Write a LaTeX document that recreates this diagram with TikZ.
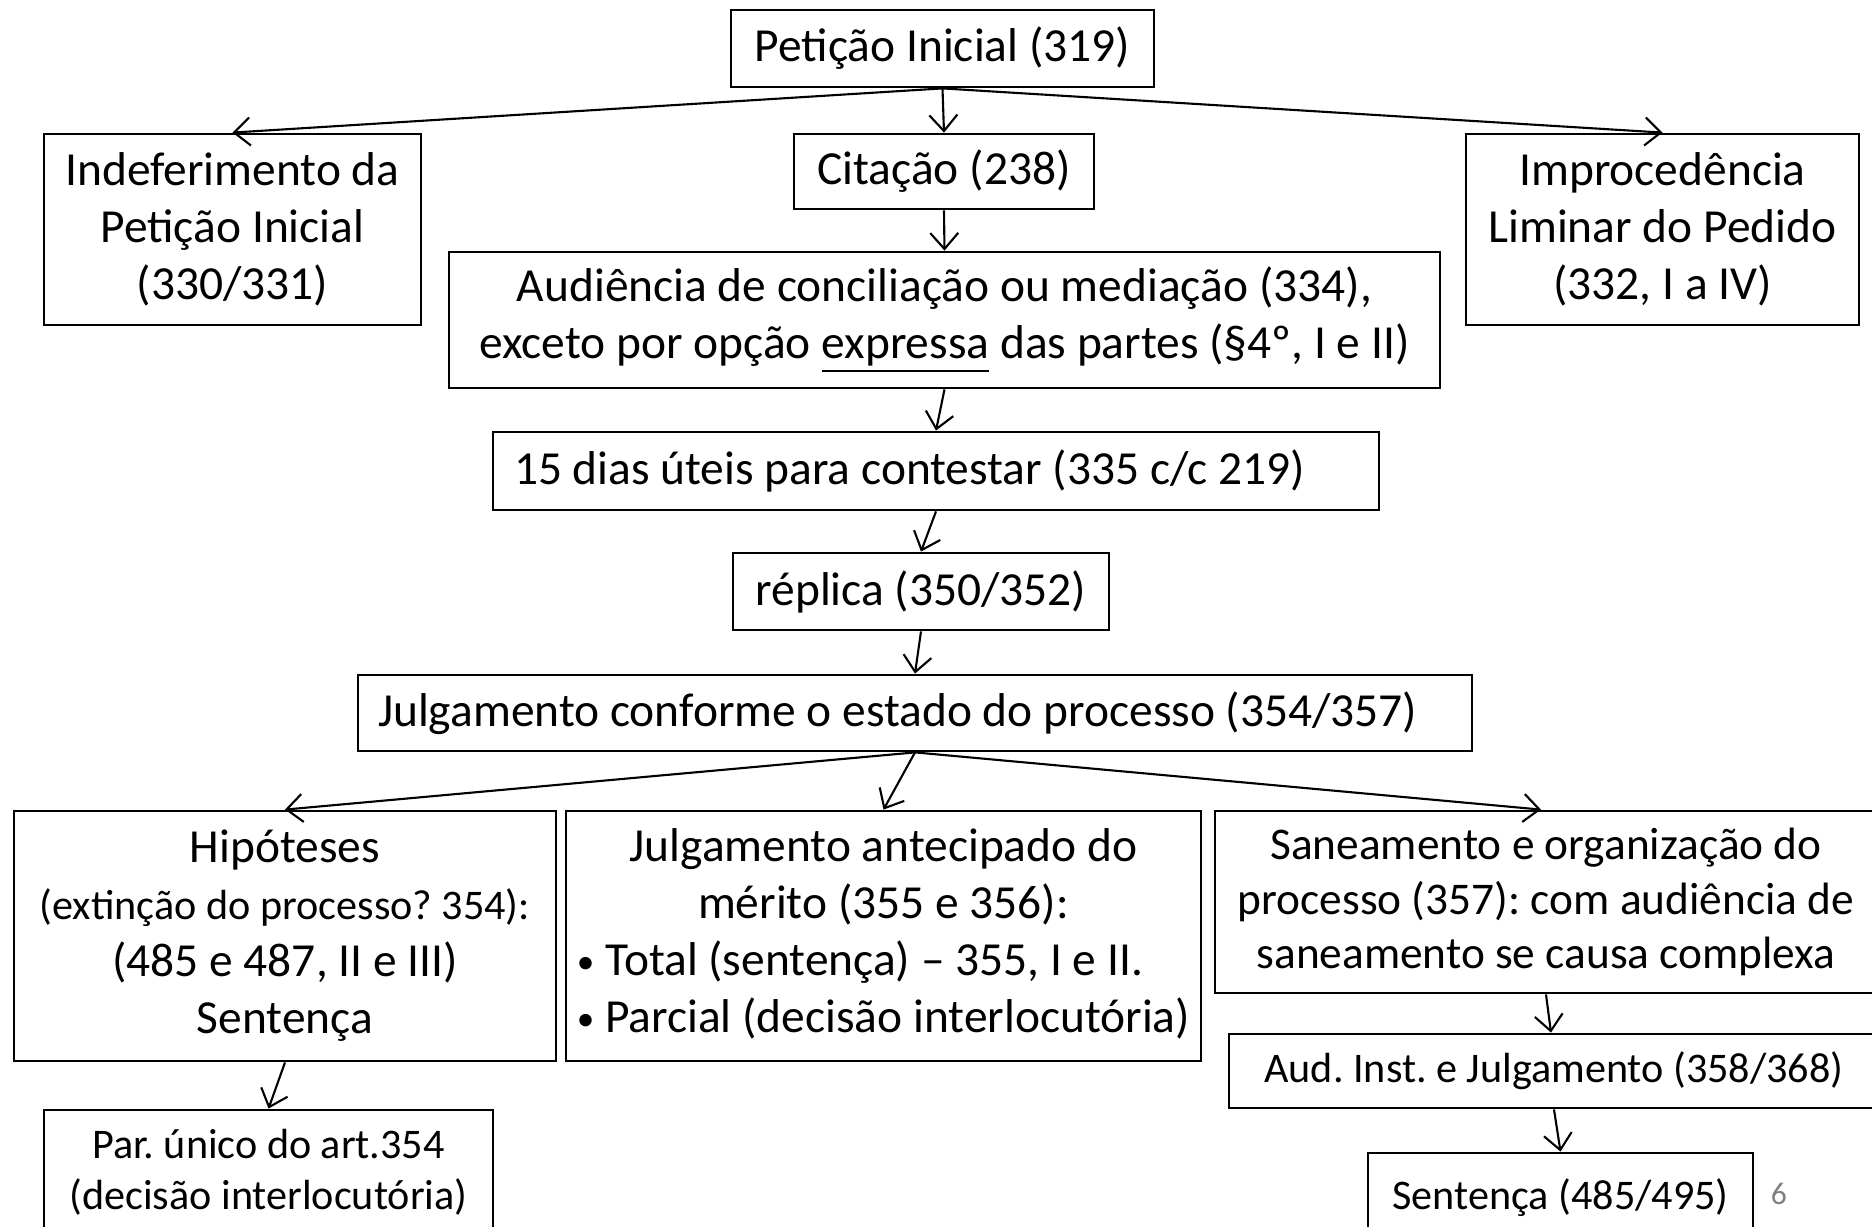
\documentclass[tikz,border=0pt]{standalone}
\usepackage{fontspec}
\setmainfont{Carlito}
\usetikzlibrary{arrows.meta}

\tikzset{
  caixa/.style={draw, line width=0.8pt, inner sep=0pt, align=flush center,
    font=\fontsize{13.5}{16.2}\selectfont},
  menor/.style={font=\fontsize{12}{14.6}\selectfont},
  seta/.style={-{Straight Barb[length=1.6mm,width=2.8mm]}, line width=0.6pt},
}
\newcommand{\marca}{\raisebox{0.12ex}{\fontsize{10}{10}\selectfont•}}
\frenchspacing

\begin{document}
\begin{tikzpicture}
\useasboundingbox (0,0) rectangle (18.72,-12.27);
  \node[caixa, minimum width=4.23cm, minimum height=0.77cm] (peticao) at (9.425,-0.485) {Petição Inicial (319)};
  \node[caixa, minimum width=3.77cm, minimum height=1.91cm] (indef) at (2.325,-2.295) {Indeferimento da\\ Petição Inicial\\ (330/331)};
  \node[caixa, minimum width=3.00cm, minimum height=0.75cm] (citacao) at (9.44,-1.715) {Citação (238)};
  \node[caixa, minimum width=3.93cm, minimum height=1.91cm] (improc) at (16.625,-2.295) {Improcedência\\ Liminar do Pedido\\ (332, I a IV)};
  \node[caixa, minimum width=9.91cm, minimum height=1.36cm] (audiencia) at (9.445,-3.20) {Audiência de conciliação ou mediação (334),\\ exceto por opção \underline{expressa} das partes (§4º, I e II)};
  \node[caixa, inner xsep=0.21cm, text width=8.44cm, align=flush left, minimum height=0.78cm] (prazo) at (9.36,-4.71) {15 dias úteis para contestar (335 c/c 219)};
  \node[caixa, minimum width=3.76cm, minimum height=0.77cm] (replica) at (9.21,-5.915) {réplica (350/352)};
  \node[caixa, inner xsep=0.2cm, text width=10.74cm, align=flush left, minimum height=0.76cm] (julgamento) at (9.15,-7.13) {Julgamento conforme o estado do processo (354/357)};
  \node[caixa, minimum width=5.42cm, minimum height=2.50cm] (hipoteses) at (2.85,-9.36) {Hipóteses\\ {\fontsize{12}{16.2}\selectfont (extinção do processo? 354):}\\ (485 e 487, II e III)\\ Sentença};
  \node[caixa, minimum width=6.35cm, minimum height=2.50cm] (antecipado) at (8.835,-9.36) {\begin{tabular}{@{}c@{}}Julgamento antecipado do\\ mérito (355 e 356):\\ \begin{tabular}[t]{@{}l@{}}\marca\ Total (sentença) – 355, I e II.\\ \marca\ Parcial (decisão interlocutória)\end{tabular}\end{tabular}};
  \node[caixa, minimum width=6.62cm, minimum height=1.82cm, font=\fontsize{12.9}{15.4}\selectfont] (saneamento) at (15.46,-9.02) {Saneamento e organização do\\ processo (357): com audiência de\\ saneamento se causa complexa};
  \node[caixa, menor, minimum width=6.50cm, minimum height=0.74cm] (audinst) at (15.54,-10.71) {Aud. Inst. e Julgamento (358/368)};
  \node[caixa, menor, minimum width=3.85cm, minimum height=0.90cm] (sentenca) at (15.605,-11.98) {Sentença (485/495)};
  \node[caixa, menor, minimum width=4.49cm, minimum height=1.25cm] (parunico) at (2.685,-11.725) {Par. único do art.354\\ (decisão interlocutória)};
  \node[text=gray, font=\fontsize{9}{11}\selectfont] (pagina) at (17.79,-11.94) {6};

  \draw[seta] (peticao.south) -- (indef.north);
  \draw[seta] (peticao.south) -- (citacao.north);
  \draw[seta] (peticao.south) -- (improc.north);
  \draw[seta] (citacao.south) -- (audiencia.north);
  \draw[seta] (audiencia.south) -- (prazo.north);
  \draw[seta] (prazo.south) -- (replica.north);
  \draw[seta] (replica.south) -- (julgamento.north);
  \draw[seta] (julgamento.south) -- (hipoteses.north);
  \draw[seta] (julgamento.south) -- (antecipado.north);
  \draw[seta] (julgamento.south) -- ([xshift=-0.05cm]saneamento.north);
  \draw[seta] (saneamento.south) -- ([xshift=-0.03cm]audinst.north);
  \draw[seta] (audinst.south) -- (sentenca.north);
  \draw[seta] (hipoteses.south) -- (parunico.north);
\end{tikzpicture}
\end{document}
